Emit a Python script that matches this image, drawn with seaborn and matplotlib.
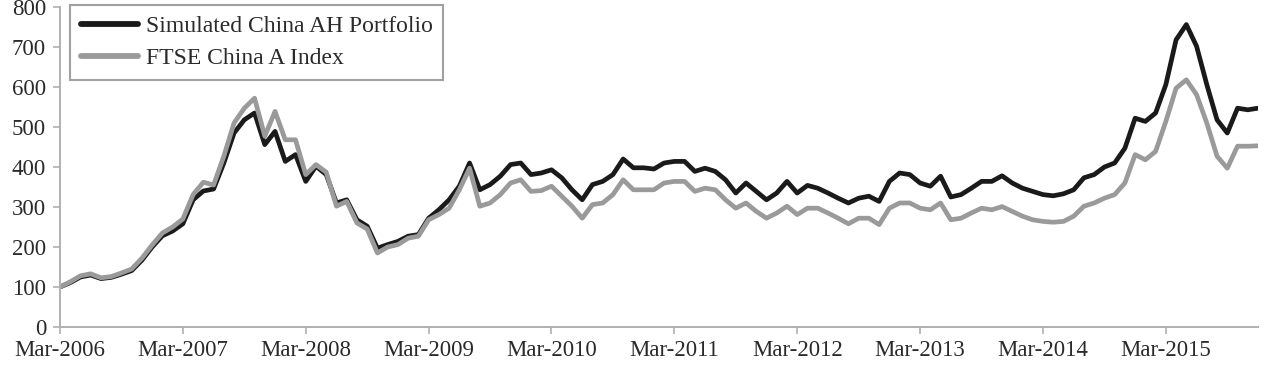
import numpy as np
import pandas as pd
import seaborn as sns
import matplotlib
matplotlib.use("Agg")
import matplotlib.pyplot as plt

# ---- data (monthly, Mar-2006 .. Dec-2015) ----
tick_labels = ["Mar-2006", "Mar-2007", "Mar-2008", "Mar-2009", "Mar-2010",
               "Mar-2011", "Mar-2012", "Mar-2013", "Mar-2014", "Mar-2015"]

portfolio = [100, 111, 125, 130, 121, 124, 132, 141, 167, 200, 228, 240,
             258, 318, 340, 345, 410, 485, 518, 535, 456, 489, 414, 431,
             364, 402, 381, 310, 318, 268, 252, 197, 206, 214, 227, 231,
             272, 293, 318, 352, 410, 343, 356, 377, 406, 410, 381, 385,
             393, 373, 343, 318, 356, 364, 381, 420, 398, 398, 395, 410,
             414, 414, 389, 397, 389, 368, 335, 360, 339, 318, 335, 364,
             335, 354, 347, 335, 322, 310, 322, 327, 314, 364, 385, 381,
             360, 352, 377, 325, 331, 347, 364, 364, 378, 360, 347, 339,
             331, 328, 333, 343, 373, 381, 400, 410, 447, 522, 514, 535,
             606, 718, 756, 702, 606, 518, 485, 547, 543, 547]

ftse = [100, 113, 128, 133, 123, 126, 135, 145, 172, 205, 235, 250,
        270, 331, 362, 355, 427, 510, 547, 572, 477, 539, 468, 468,
        381, 406, 387, 302, 314, 260, 245, 185, 200, 206, 222, 227,
        268, 281, 297, 343, 397, 302, 310, 331, 360, 368, 339, 341,
        352, 327, 302, 272, 306, 310, 331, 368, 343, 343, 343, 360,
        364, 364, 339, 347, 343, 318, 297, 310, 289, 272, 285, 302,
        281, 297, 297, 285, 272, 258, 272, 272, 256, 297, 310, 310,
        297, 293, 310, 268, 272, 285, 297, 293, 301, 289, 277, 268,
        264, 262, 264, 277, 302, 310, 322, 331, 360, 431, 418, 439,
        514, 597, 618, 581, 510, 427, 397, 452, 452, 453]

series_names = ["Simulated China AH Portfolio", "FTSE China A Index"]

months = np.arange(len(portfolio))
df = pd.DataFrame({
    "month": np.concatenate([months, months]),
    "value": portfolio + ftse,
    "series": [series_names[0]] * len(portfolio) + [series_names[1]] * len(ftse),
})

# ---- style ----
sns.set_theme(style="white")
plt.rcParams["font.family"] = ["Liberation Serif", "DejaVu Serif"]

W, H = 1266, 369
fig = plt.figure(figsize=(W / 100, H / 100), dpi=100)
ax = fig.add_axes([60 / W, (H - 327) / H, (1258 - 60) / W, 320 / H])

sns.lineplot(data=df, x="month", y="value", hue="series",
             hue_order=series_names,
             palette={series_names[0]: "#1a1a1a", series_names[1]: "#9a9a9a"},
             linewidth=3.4, ax=ax, legend=True)

spine_col = "#aeb0b2"
for s in ["top", "right"]:
    ax.spines[s].set_visible(False)
for s in ["left", "bottom"]:
    ax.spines[s].set_color(spine_col)
    ax.spines[s].set_linewidth(1.4)

ax.set_xlim(0, len(portfolio) - 1)
ax.set_ylim(0, 800)
ax.set_yticks(np.arange(0, 801, 100))
ax.set_xticks(np.arange(0, 12 * len(tick_labels), 12))
ax.set_xticklabels(tick_labels)
ax.tick_params(axis="both", which="major", direction="out", length=5,
               width=1.2, color=spine_col, labelsize=16.5, labelcolor="#2a2a2a",
               left=True, bottom=True)
ax.tick_params(axis="x", pad=4)
ax.tick_params(axis="y", pad=5)
ax.set_xlabel("")
ax.set_ylabel("")

leg = ax.legend(loc="upper left", bbox_to_anchor=(10 / 1198, 1 + 2 / 320),
                borderaxespad=0, frameon=True, fancybox=False,
                fontsize=17, handlelength=2.45, handletextpad=0.3,
                borderpad=0.45, labelspacing=0.45)
leg.get_frame().set_edgecolor("#8a8a8a")
leg.get_frame().set_linewidth(1.5)
for line in leg.get_lines():
    line.set_linewidth(4.2)
for t in leg.get_texts():
    t.set_color("#2a2a2a")

fig.savefig("out.png", dpi=100)
